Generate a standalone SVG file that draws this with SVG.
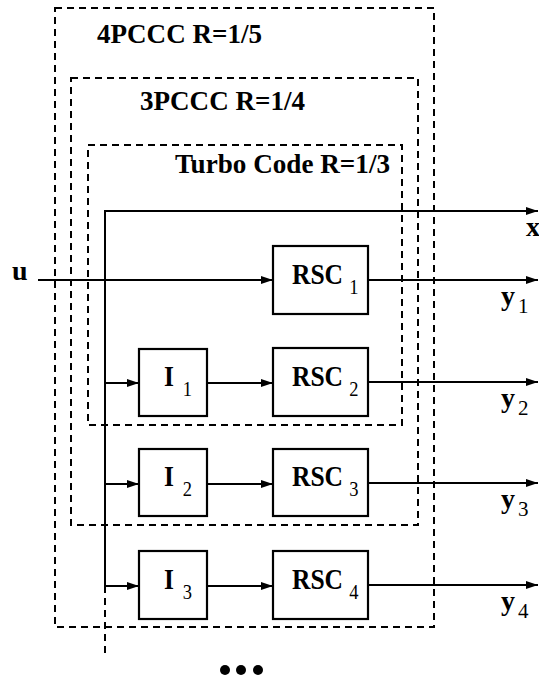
<svg xmlns="http://www.w3.org/2000/svg" width="539" height="677" viewBox="0 0 539 677">
<defs>
<marker id="ah" markerWidth="12" markerHeight="8" refX="12" refY="4" orient="auto" markerUnits="userSpaceOnUse">
<path d="M0,0 L12,4 L0,8 Z" fill="#000"/>
</marker>
<style>
.dash{fill:none;stroke:#000;stroke-width:2;stroke-dasharray:7,5}
.box{fill:#fff;stroke:#000;stroke-width:2.2}
.arr{fill:none;stroke:#000;stroke-width:2;marker-end:url(#ah)}
text{font-family:"Liberation Serif","Times New Roman",serif;font-weight:bold;fill:#000}
.lbl{font-size:29px}
.sub{font-weight:normal;font-size:21px}
.title{font-size:27px}
.io{font-size:28px}
</style>
</defs>
<g id="pccc4">
<rect class="dash" x="55" y="8" width="379" height="619"/>
<text class="title" x="97" y="43" textLength="165" lengthAdjust="spacingAndGlyphs">4PCCC R=1/5</text>
</g>
<g id="pccc3">
<rect class="dash" x="71" y="78" width="347" height="447"/>
<text class="title" x="140" y="110" textLength="165" lengthAdjust="spacingAndGlyphs">3PCCC R=1/4</text>
</g>
<g id="turbo">
<rect class="dash" x="88" y="145" width="314" height="280"/>
<text class="title" x="175" y="173" textLength="215" lengthAdjust="spacingAndGlyphs">Turbo Code R=1/3</text>
</g>
<g id="connectors">
<polyline class="arr" points="105,586 105,211 538,211"/>
<line class="dash" x1="105" y1="586" x2="105" y2="655"/>
<line class="arr" x1="38" y1="280" x2="273" y2="280"/>
<line class="arr" x1="368" y1="280" x2="538" y2="280"/>
<line class="arr" x1="105" y1="383" x2="139" y2="383"/>
<line class="arr" x1="207" y1="383" x2="273" y2="383"/>
<line class="arr" x1="368" y1="382" x2="538" y2="382"/>
<line class="arr" x1="105" y1="484" x2="139" y2="484"/>
<line class="arr" x1="207" y1="484" x2="273" y2="484"/>
<line class="arr" x1="368" y1="483" x2="538" y2="483"/>
<line class="arr" x1="105" y1="586" x2="139" y2="586"/>
<line class="arr" x1="207" y1="586" x2="273" y2="586"/>
<line class="arr" x1="368" y1="585" x2="538" y2="585"/>
</g>
<g id="u"><text class="io" x="12" y="280">u</text></g>
<g id="x"><text class="io" x="526" y="236">x</text></g>
<g id="rsc1">
<rect class="box" x="273" y="246" width="95" height="68"/>
<text class="lbl" transform="translate(292,283.5) scale(0.88,1)">RSC<tspan class="sub" dx="7" dy="10">1</tspan></text>
</g>
<g id="i1">
<rect class="box" x="139" y="349" width="68" height="67"/>
<text class="lbl" transform="translate(164,386) scale(0.88,1)">I<tspan class="sub" dx="10" dy="10">1</tspan></text>
</g>
<g id="rsc2">
<rect class="box" x="273" y="348" width="95" height="68"/>
<text class="lbl" transform="translate(292,386) scale(0.88,1)">RSC<tspan class="sub" dx="7" dy="10">2</tspan></text>
</g>
<g id="i2">
<rect class="box" x="139" y="449" width="68" height="67"/>
<text class="lbl" transform="translate(164,486) scale(0.88,1)">I<tspan class="sub" dx="10" dy="10">2</tspan></text>
</g>
<g id="rsc3">
<rect class="box" x="273" y="449" width="95" height="67"/>
<text class="lbl" transform="translate(292,486) scale(0.88,1)">RSC<tspan class="sub" dx="7" dy="10">3</tspan></text>
</g>
<g id="i3">
<rect class="box" x="139" y="551" width="68" height="68"/>
<text class="lbl" transform="translate(164,589) scale(0.88,1)">I<tspan class="sub" dx="10" dy="10">3</tspan></text>
</g>
<g id="rsc4">
<rect class="box" x="273" y="551" width="95" height="68"/>
<text class="lbl" transform="translate(292,589) scale(0.88,1)">RSC<tspan class="sub" dx="7" dy="10">4</tspan></text>
</g>
<g id="y1"><text class="io" x="501" y="305">y<tspan class="sub" dx="3" dy="8">1</tspan></text></g>
<g id="y2"><text class="io" x="501" y="407">y<tspan class="sub" dx="3" dy="8">2</tspan></text></g>
<g id="y3"><text class="io" x="501" y="508">y<tspan class="sub" dx="3" dy="8">3</tspan></text></g>
<g id="y4"><text class="io" x="501" y="610">y<tspan class="sub" dx="3" dy="8">4</tspan></text></g>
<g id="dots">
<circle cx="225" cy="670" r="5"/>
<circle cx="241" cy="670" r="5"/>
<circle cx="258" cy="670" r="5"/>
</g>
</svg>
